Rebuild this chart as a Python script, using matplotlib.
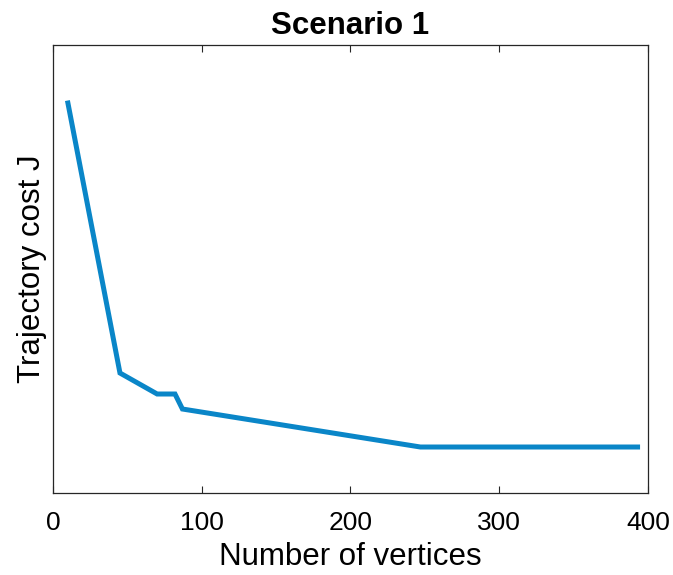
import matplotlib
matplotlib.use("Agg")
import matplotlib.pyplot as plt

# data (y in arbitrary cost units)
vertices = [10, 45, 70, 82, 87, 247, 393]
cost = [390, 120, 99, 99, 84, 46, 46]

plt.rcParams['font.family'] = ['Liberation Sans', 'DejaVu Sans']

fig = plt.figure(figsize=(6.73, 5.75), dpi=100)
ax = fig.add_axes([0.0788, 0.1426, 0.884, 0.7791])

ax.plot(vertices, cost, color='#0a86c8', linewidth=3.6, solid_joinstyle='miter')

ax.set_xlim(0, 400)
ax.set_ylim(0, 448)
ax.set_xticks([0, 100, 200, 300, 400])
ax.set_yticks([])

ax.tick_params(axis='x', direction='in', length=5, width=0.8, top=True,
               labelsize=19, colors='#262626', pad=13)
ax.tick_params(axis='x', labelcolor='black')
for s in ax.spines.values():
    s.set_color('#262626')
    s.set_linewidth(0.9)

ax.set_title('Scenario 1', fontsize=22.5, fontweight='bold', pad=8)
ax.set_xlabel('Number of vertices', fontsize=22.5, labelpad=5)
ax.set_ylabel('Trajectory cost J', fontsize=22.5, labelpad=4)

fig.savefig('out.png', dpi=100)
